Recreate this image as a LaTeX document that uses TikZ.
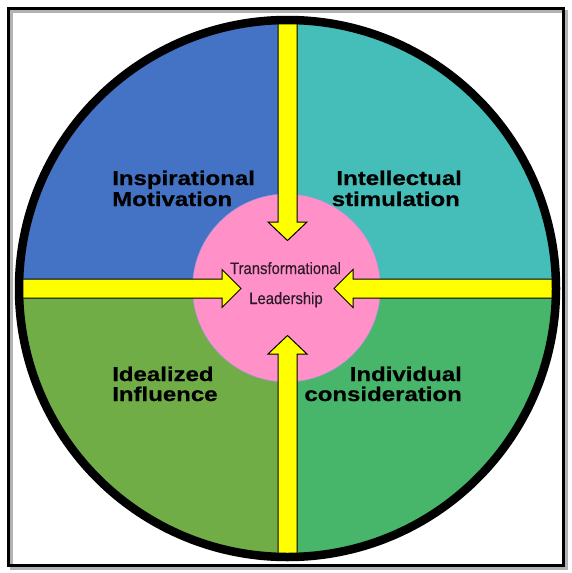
\documentclass[tikz,border=0pt]{standalone}
\usepackage{fontspec}
\setmainfont{Liberation Sans}
\newfontfamily\labelfont[FakeStretch=1.2,FakeBold=0.6]{Liberation Sans Bold}
\newfontfamily\hubfont[FakeStretch=0.9,FakeBold=0.3]{Liberation Sans}
\definecolor{qblue}{HTML}{4472C4}
\definecolor{qteal}{HTML}{45BEB9}
\definecolor{qolive}{HTML}{70AD47}
\definecolor{qgreen}{HTML}{47B66A}
\definecolor{cpink}{HTML}{FF91C8}
\definecolor{arrowyellow}{HTML}{FFFF00}
\definecolor{ctext}{HTML}{2A1A2A}
\begin{document}
\begin{tikzpicture}[x=1pt,y=-1pt,
  qlabel/.style={font=\labelfont\fontsize{20}{21}\selectfont,inner sep=0pt,text=black},
  clabel/.style={font=\hubfont\fontsize{16.5}{18}\selectfont,inner sep=0pt,text=ctext},
  yarrow/.style={fill=arrowyellow,draw=black,line width=1pt,line join=miter}]
\useasboundingbox (0,0) rectangle (572,573);
\fill[white] (0,0) rectangle (572,573);
% frame shadow and frame
\draw[black!30,line width=3pt] (11.5,11.5) rectangle (566,568);
\draw[black,line width=3pt] (8.5,8.5) rectangle (563,565);
\coordinate (c) at (287.5,288.5);
% quadrants
\begin{scope}
  \clip (c) circle[radius=272];
  \fill[qblue]  (c) rectangle ++(-280,-280);
  \fill[qteal]  (c) rectangle ++(280,-280);
  \fill[qolive] (c) rectangle ++(-280,280);
  \fill[qgreen] (c) rectangle ++(280,280);
  % centre circle
  \node[circle,fill=cpink,draw=black!40!blue!40,line width=0.5pt,minimum size=188pt,inner sep=0pt] (hub) at (286.5,288) {};
  % arrows
  \draw[yarrow] (278,0) -- (278,222) -- (268,222) -- (287.5,240.5) -- (307,222) -- (297,222) -- (297,0) -- cycle;
  \draw[yarrow] (278,580) -- (278,354) -- (268,354) -- (287.5,335.5) -- (307,354) -- (297,354) -- (297,580) -- cycle;
  \draw[yarrow] (0,279) -- (222,279) -- (222,269.5) -- (241,288.5) -- (222,307.5) -- (222,298) -- (0,298) -- cycle;
  \draw[yarrow] (580,279) -- (353,279) -- (353,269.5) -- (334,288.5) -- (353,307.5) -- (353,298) -- (580,298) -- cycle;
\end{scope}
% outer circle outline
\draw[black,line width=8.5pt] (c) circle[radius=268.5];
% labels
\node[qlabel,anchor=base west] (im1) at (112,185) {Inspirational};
\node[qlabel,anchor=base west] (im2) at (112,206) {Motivation};
\node[qlabel,anchor=base east] (is1) at (462,185) {Intellectual};
\node[qlabel,anchor=base east] (is2) at (460,206) {stimulation};
\node[qlabel,anchor=base west] (ii1) at (112,381) {Idealized};
\node[qlabel,anchor=base west] (ii2) at (112,401) {Influence};
\node[qlabel,anchor=base east] (ic1) at (462,381) {Individual};
\node[qlabel,anchor=base east] (ic2) at (462,401) {consideration};
\node[clabel,anchor=base] (tl1) at (285.5,274) {Transformational};
\node[clabel,anchor=base] (tl2) at (286,304) {Leadership};
\end{tikzpicture}
\end{document}
